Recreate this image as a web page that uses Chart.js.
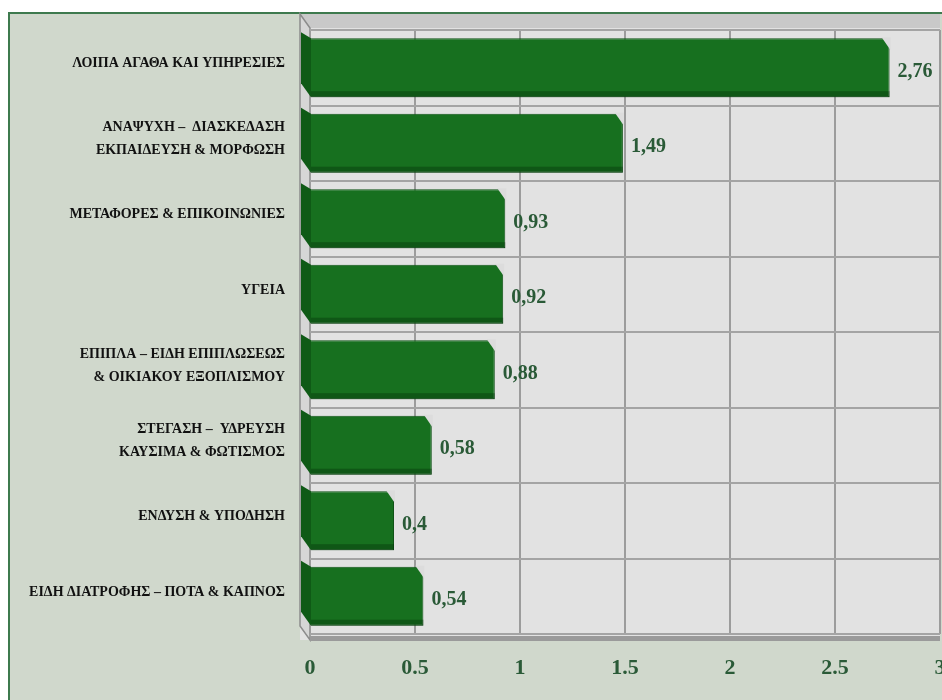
<!DOCTYPE html>
<html>
<head>
<meta charset="utf-8">
<script src="https://cdn.jsdelivr.net/npm/chart.js@4"></script>
<style>
    html, body { margin: 0; padding: 0; background: #fff; }
    #wrap { width: 942px; height: 700px; }
</style>
</head>
<body>
<div id="wrap"><canvas id="barchart"></canvas></div>
<script>
// categories, top to bottom
const categories = [
    'ΛΟΙΠΑ ΑΓΑΘΑ ΚΑΙ ΥΠΗΡΕΣΙΕΣ',
    ['ΑΝΑΨΥΧΗ –  ΔΙΑΣΚΕΔΑΣΗ', 'ΕΚΠΑΙΔΕΥΣΗ & ΜΟΡΦΩΣΗ'],
    'ΜΕΤΑΦΟΡΕΣ & ΕΠΙΚΟΙΝΩΝΙΕΣ',
    'ΥΓΕΙΑ',
    ['ΕΠΙΠΛΑ – ΕΙΔΗ ΕΠΙΠΛΩΣΕΩΣ', '& ΟΙΚΙΑΚΟΥ ΕΞΟΠΛΙΣΜΟΥ'],
    ['ΣΤΕΓΑΣΗ –  ΥΔΡΕΥΣΗ', 'ΚΑΥΣΙΜΑ & ΦΩΤΙΣΜΟΣ'],
    'ΕΝΔΥΣΗ & ΥΠΟΔΗΣΗ',
    'ΕΙΔΗ ΔΙΑΤΡΟΦΗΣ – ΠΟΤΑ & ΚΑΠΝΟΣ'
];

const values = [2.76, 1.49, 0.93, 0.92, 0.88, 0.58, 0.4, 0.54];

const valueLabels = ['2,76', '1,49', '0,93', '0,92', '0,88', '0,58', '0,4', '0,54'];

const X_MIN = 0;
const X_MAX = 3;
const X_STEP = 0.5;

const SERIF = '"Liberation Serif", "DejaVu Serif", serif';
const BAR_GREEN = '#17701f';
const LABEL_GREEN = '#2a5a37';

// frame, grey plot box with a fake 3d wall and floor
const backdrop = {
    id: 'backdrop',
    beforeDraw(chart) {
        const { ctx, chartArea: a, width, height } = chart;
        ctx.save();
        ctx.fillStyle = '#ffffff';
        ctx.fillRect(0, 0, width, height);

        ctx.fillStyle = '#d0d8cc';
        ctx.fillRect(8, 12, width - 8, height - 12);
        ctx.strokeStyle = '#3e7a4e';
        ctx.lineWidth = 2;
        ctx.beginPath();
        ctx.moveTo(9, height);
        ctx.lineTo(9, 13);
        ctx.lineTo(width, 13);
        ctx.stroke();

        // back plane
        ctx.fillStyle = '#e2e2e2';
        ctx.fillRect(a.left - 10, a.top - 16, a.right - a.left + 10, a.bottom - a.top + 22);

        // top wall
        ctx.fillStyle = '#c9c9c9';
        ctx.beginPath();
        ctx.moveTo(a.left - 10, a.top - 16);
        ctx.lineTo(a.right, a.top - 16);
        ctx.lineTo(a.right, a.top - 2);
        ctx.lineTo(a.left, a.top - 2);
        ctx.closePath();
        ctx.fill();

        // left wall
        ctx.fillStyle = '#d6d6d6';
        ctx.beginPath();
        ctx.moveTo(a.left - 10, a.top - 16);
        ctx.lineTo(a.left, a.top - 2);
        ctx.lineTo(a.left, a.bottom + 6);
        ctx.lineTo(a.left - 10, a.bottom - 8);
        ctx.closePath();
        ctx.fill();
        ctx.strokeStyle = '#8c8c8c';
        ctx.lineWidth = 1.5;
        ctx.stroke();

        // floor edge
        ctx.fillStyle = '#9a9a9a';
        ctx.fillRect(a.left, a.bottom + 2, a.right - a.left, 5);
        ctx.restore();
    }
};

// slanted ends on the bars and the value labels
const barDecor = {
    id: 'barDecor',
    afterDatasetsDraw(chart) {
        const { ctx } = chart;
        const meta = chart.getDatasetMeta(0);
        ctx.save();
        meta.data.forEach((bar, i) => {
            const h = bar.height;
            const top = bar.y - h / 2;
            const bottom = bar.y + h / 2;
            // left depth face
            ctx.fillStyle = '#0f5a16';
            ctx.beginPath();
            ctx.moveTo(bar.base - 10, top - 6);
            ctx.lineTo(bar.base, top);
            ctx.lineTo(bar.base, bottom);
            ctx.lineTo(bar.base - 10, bottom - 14);
            ctx.closePath();
            ctx.fill();
            // bevel on top-right corner
            ctx.fillStyle = '#dcdcdc';
            ctx.beginPath();
            ctx.moveTo(bar.x - 8, top - 1);
            ctx.lineTo(bar.x + 1, top - 1);
            ctx.lineTo(bar.x + 1, top + 12);
            ctx.closePath();
            ctx.fill();
            // darker bottom band
            ctx.fillStyle = 'rgba(0, 40, 5, 0.35)';
            ctx.fillRect(bar.base, bottom - 6, bar.x - bar.base, 6);

            ctx.fillStyle = LABEL_GREEN;
            ctx.font = 'bold 20px ' + SERIF;
            ctx.textAlign = 'left';
            ctx.textBaseline = 'middle';
            ctx.fillText(valueLabels[i], bar.x + 8, bar.y + 4);
        });
        ctx.restore();
    }
};

const data = {
    labels: categories,
    datasets: [{
        data: values,
        backgroundColor: BAR_GREEN,
        borderColor: '#0f5316',
        borderWidth: 1,
        barPercentage: 0.78,
        categoryPercentage: 1
    }]
};

const config = {
    type: 'bar',
    data,
    options: {
        indexAxis: 'y',
        responsive: true,
        maintainAspectRatio: false,
        animation: false,
        layout: { padding: { top: 30, right: 2, left: 0, bottom: 0 } },
        plugins: {
            legend: { display: false },
            tooltip: { enabled: false }
        },
        scales: {
            x: {
                min: X_MIN,
                max: X_MAX,
                border: { display: false },
                grid: { color: '#9c9c9c', lineWidth: 2, drawTicks: false },
                ticks: {
                    stepSize: X_STEP,
                    padding: 21,
                    color: LABEL_GREEN,
                    font: { family: SERIF, size: 22, weight: 'bold' },
                    callback: (value) => String(value)
                },
                afterFit(scale) {
                    scale.height = 66;
                    scale.paddingLeft = 0;
                    scale.paddingRight = 0;
                }
            },
            y: {
                border: { display: false },
                grid: { color: '#a4a4a4', lineWidth: 2, drawTicks: false, offset: true },
                ticks: {
                    padding: 25,
                    labelOffset: -4,
                    color: '#111',
                    font: { family: SERIF, size: 14, weight: 'bold', lineHeight: 1.65 }
                },
                afterFit(scale) {
                    scale.width = 310;
                    scale.paddingTop = 0;
                    scale.paddingBottom = 0;
                }
            }
        }
    },
    plugins: [backdrop, barDecor]
};

const myChart = new Chart(document.getElementById('barchart'), config);
</script>
</body>
</html>
